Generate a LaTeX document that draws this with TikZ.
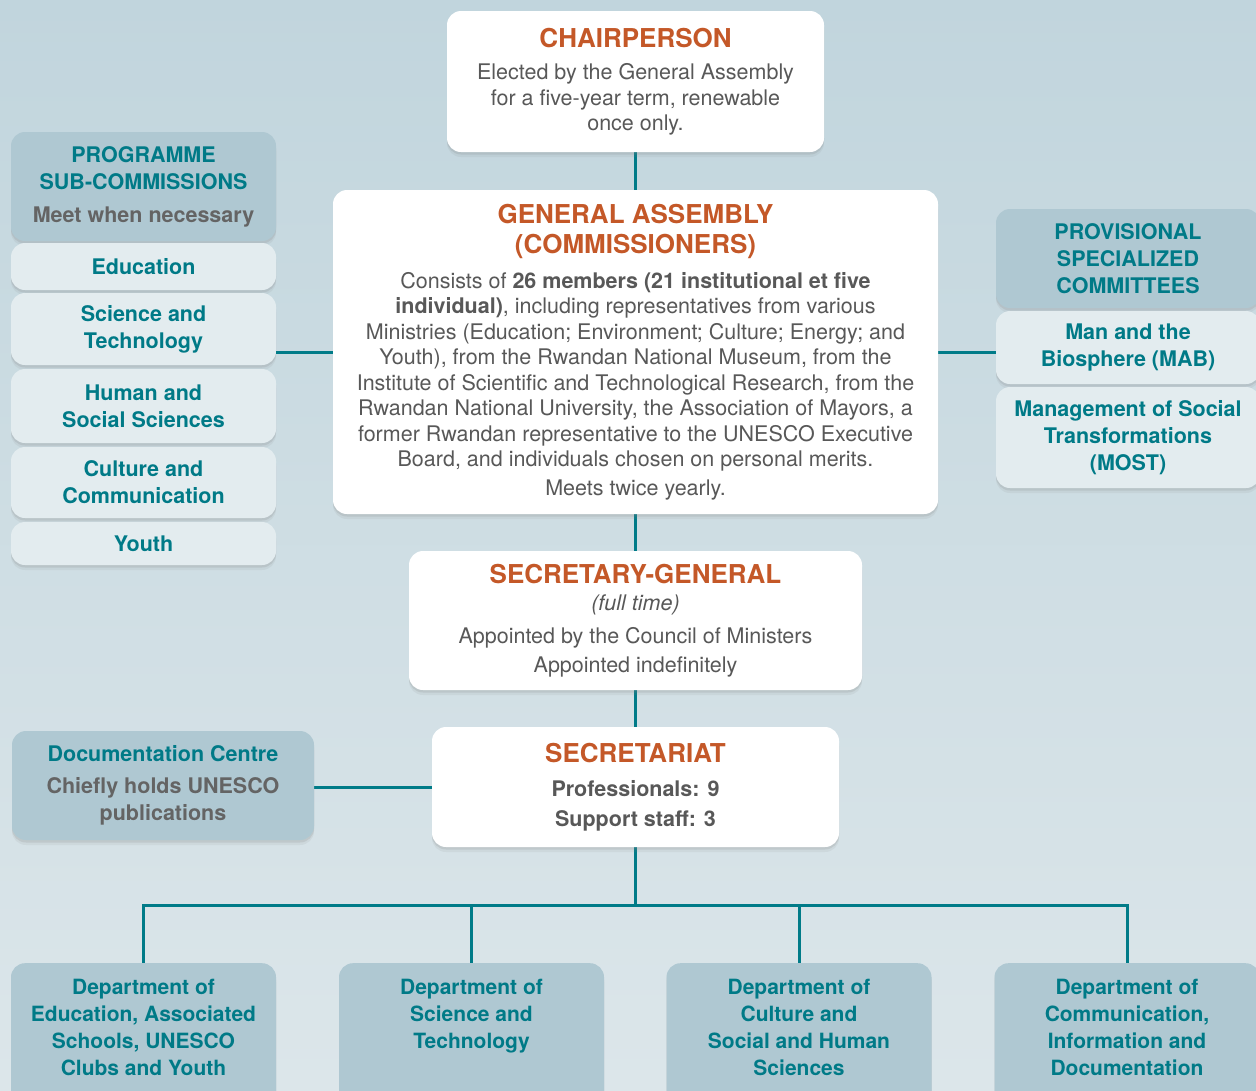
\documentclass[tikz,border=0pt]{standalone}
\usepackage{fontspec}
\setmainfont{TeX Gyre Heros}
\usetikzlibrary{shadows,calc}

\definecolor{bgtop}{RGB}{193,213,221}
\definecolor{bgbot}{RGB}{220,230,234}
\definecolor{boxmid}{RGB}{175,200,210}
\definecolor{boxlight}{RGB}{227,236,239}
\definecolor{tealtext}{RGB}{0,122,135}
\definecolor{tealline}{RGB}{0,123,136}
\definecolor{rustred}{RGB}{196,88,40}
\definecolor{greytext}{RGB}{88,88,88}
\definecolor{greynote}{RGB}{100,100,100}

\newcommand\ttlfont{\fontsize{26}{31}\selectfont\bfseries\color{rustred}}
\newcommand\txtfont{\fontsize{21.5}{25.5}\selectfont\color{greytext}}
\newcommand\subfont{\fontsize{21.5}{27}\selectfont\bfseries\color{tealtext}}
\newcommand\deptfont{\fontsize{21}{27}\selectfont\bfseries\color{tealtext}}
\newcommand\notefont{\fontsize{21.5}{27}\selectfont\bfseries\color{greynote}}

\pgfdeclarelayer{backdrop}
\pgfdeclarelayer{links}
\pgfsetlayers{backdrop,links,main}

\begin{document}
\begin{tikzpicture}[x=1pt, y=-1pt,
  box/.style = {rounded corners=14pt, align=center, inner sep=0pt,
    drop shadow={shadow xshift=0pt, shadow yshift=-5pt, opacity=0.10},
    drop shadow={shadow xshift=0pt, shadow yshift=-2.5pt, opacity=0.18}},
  white box/.style = {box, fill=white, font=\txtfont},
  mid box/.style = {box, fill=boxmid, font=\subfont, minimum width=265pt},
  light box/.style = {box, fill=boxlight, font=\subfont, minimum width=265pt},
  dept/.style = {mid box, font=\deptfont, anchor=north, inner ysep=16pt},
  link/.style = {draw=tealline, line width=3pt}]

% Canvas
\useasboundingbox (0,0) rectangle (1256,1090);
\clip (0,0) rectangle (1256,1090);
\begin{pgfonlayer}{backdrop}
\fill[top color=bgtop, bottom color=bgbot] (0,0) rectangle (1256,1090);
\end{pgfonlayer}

% Central column
\node[white box, minimum width=377pt, minimum height=141pt] (chair) at (635.5,81.5)
  {{\ttlfont CHAIRPERSON}\\[7pt] Elected by the General Assembly\\ for a five-year term, renewable\\ once only.};
\node[white box, minimum width=605pt, minimum height=324pt] (ga) at (635.5,352)
  {{\ttlfont GENERAL ASSEMBLY}\\[5pt] {\ttlfont (COMMISSIONERS)}\\[9pt]
   Consists of \textbf{26 members (21 institutional et five}\\ \textbf{individual)}, including representatives from various\\
   Ministries (Education; Environment; Culture; Energy; and\\ Youth), from the Rwandan National Museum, from the\\
   Institute of Scientific and Technological Research, from the\\ Rwandan National University, the Association of Mayors, a\\
   former Rwandan representative to the UNESCO Executive\\ Board, and individuals chosen on personal merits.\\[3pt]
   Meets twice yearly.};
\node[white box, minimum width=453pt, minimum height=139pt] (sg) at (635.5,620.5)
  {{\ttlfont SECRETARY-GENERAL}\\[2pt] \textit{(full time)}\\[7pt] Appointed by the Council of Ministers\\[4pt] Appointed indefinitely};
\node[white box, minimum width=407pt, minimum height=120pt] (sec) at (635.5,787)
  {{\ttlfont SECRETARIAT}\\[9pt] \textbf{Professionals: 9}\\[4pt] \textbf{Support staff: 3}};

% Programme sub-commissions
\node[mid box, minimum height=109pt] (prog) at (143.5,186.5)
  {PROGRAMME\\ SUB-COMMISSIONS\\[6pt] {\notefont Meet when necessary}};
\node[light box, minimum height=47pt] (edu) at (143.5,266.5) {Education};
\node[light box, minimum height=72pt] (sci) at (143.5,329) {Science and\\ Technology};
\node[light box, minimum height=74pt] (hum) at (143.5,406) {Human and\\ Social Sciences};
\node[light box, minimum height=71pt] (cult) at (143.5,482.5) {Culture and\\ Communication};
\node[light box, minimum height=43pt] (youth) at (143.5,543.5) {Youth};

% Provisional specialized committees
\node[mid box, minimum width=264pt, minimum height=99pt] (prov) at (1128,258.5)
  {PROVISIONAL\\ SPECIALIZED\\ COMMITTEES};
\node[light box, minimum width=264pt, minimum height=73pt] (mab) at (1128,347.5)
  {Man and the\\ Biosphere (MAB)};
\node[light box, minimum width=264pt, minimum height=101pt] (most) at (1128,437.5)
  {Management of Social\\ Transformations\\ (MOST)};

% Documentation centre
\node[mid box, minimum width=302pt, minimum height=109pt] (doc) at (163,785.5)
  {Documentation Centre\\[5pt] {\notefont Chiefly holds UNESCO}\\ {\notefont publications}};

% Departments
\node[dept] (d1) at (143.5,963) {\parbox[t][130pt][t]{250pt}{\centering Department of\\ Education, Associated\\ Schools, UNESCO\\ Clubs and Youth}};
\node[dept] (d2) at (471.5,963) {\parbox[t][130pt][t]{250pt}{\centering Department of\\ Science and\\ Technology}};
\node[dept] (d3) at (799,963) {\parbox[t][130pt][t]{250pt}{\centering Department of\\ Culture and\\ Social and Human\\ Sciences}};
\node[dept] (d4) at (1127,963) {\parbox[t][130pt][t]{250pt}{\centering Department of\\ Communication,\\ Information and\\ Documentation}};

% Connectors
\begin{pgfonlayer}{links}
\draw[link] (chair) -- (ga);
\draw[link] (ga) -- (sg);
\draw[link] (sg) -- (sec);
\draw[link] (ga.west) -- (ga.west -| sci.east);
\draw[link] (ga.east) -- (ga.east -| mab.west);
\draw[link] (sec.west) -- (sec.west -| doc.east);
\coordinate (bus) at ($(sec.south)+(0,58)$);
\draw[link] (sec.south) -- (bus);
\foreach \d in {d1,d2,d3,d4}
  \draw[link] (bus) -| (\d.north);
\end{pgfonlayer}

\end{tikzpicture}
\end{document}
